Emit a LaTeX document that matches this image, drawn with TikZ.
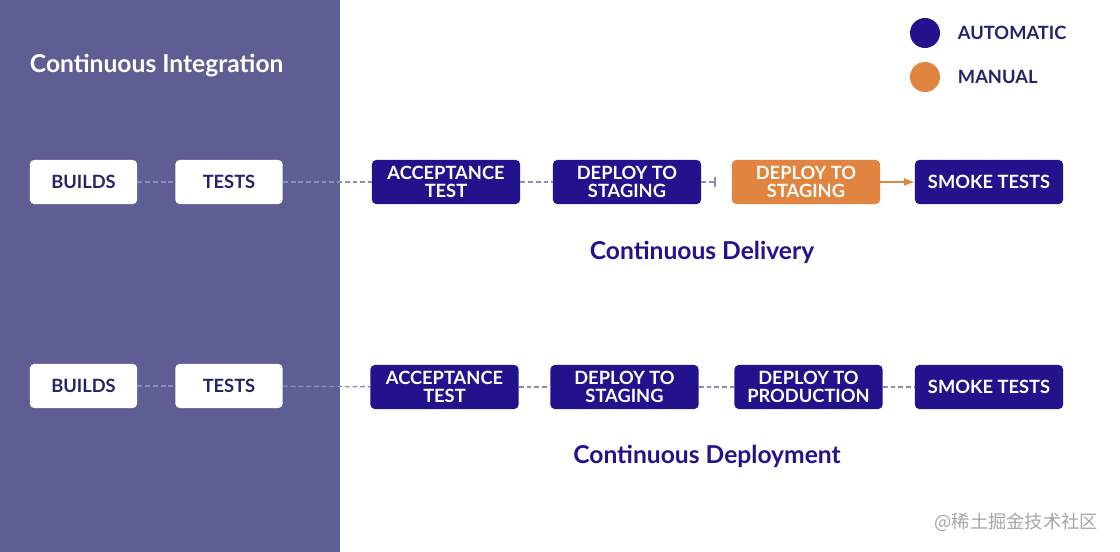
\documentclass[tikz,border=0pt]{standalone}
\usepackage{fontspec}
\setmainfont{Lato}
\newfontfamily\cjkfont{Noto Sans CJK SC}
\usetikzlibrary{arrows.meta}
\definecolor{ciPanel}{HTML}{5E5E95}
\definecolor{autoBlue}{HTML}{22128C}
\definecolor{manOrange}{HTML}{E0843F}
\definecolor{navyText}{HTML}{25236A}
\definecolor{dashLine}{HTML}{8C8CC0}
\begin{document}
\begin{tikzpicture}[x=0.025cm,y=-0.025cm,>=Latex,
    box/.style={rounded corners=3pt,align=center,font=\fontsize{13}{13}\selectfont\bfseries,
      minimum height=1.1cm,inner sep=0pt},
    cibox/.style={box,fill=white,text=navyText,minimum width=2.68cm},
    autobox/.style={box,fill=autoBlue,text=white,minimum width=3.7cm},
    manbox/.style={box,fill=manOrange,text=white,minimum width=3.7cm},
    link/.style={dashLine,line width=1pt,dash pattern=on 3.5pt off 2pt},
    heading/.style={text=autoBlue,font=\fontsize{17.5}{17.5}\selectfont\bfseries}]
  \useasboundingbox (0,0) rectangle (1120,552) ;
  \fill [white] (0,0) rectangle (1120,552) ;
  \fill [ciPanel] (0,0) rectangle (340,552) ;
  \node [anchor=west,text=white,font=\fontsize{17.5}{17.5}\selectfont\bfseries] (ci) at (25,66) {Continuous Integration} ;
  % legend
  \node [circle,fill=autoBlue,minimum size=0.75cm,inner sep=0pt] (dotA) at (925,33) {} ;
  \node [circle,fill=manOrange,minimum size=0.75cm,inner sep=0pt] (dotM) at (925,77) {} ;
  \node [anchor=west,text=navyText,font=\fontsize{13}{13}\selectfont\bfseries] (legA) at (953,33) {AUTOMATIC} ;
  \node [anchor=west,text=navyText,font=\fontsize{13}{13}\selectfont\bfseries] (legM) at (953,77) {MANUAL} ;
  % continuous delivery
  \node [cibox] (b1) at (83.5,182) {BUILDS} ;
  \node [cibox] (t1) at (229,182) {TESTS} ;
  \node [autobox] (a1) at (446,182) {ACCEPTANCE\\TEST} ;
  \node [autobox] (s1) at (627,182) {DEPLOY TO\\STAGING} ;
  \node [manbox] (m1) at (806,182) {DEPLOY TO\\STAGING} ;
  \node [autobox] (k1) at (989,182) {SMOKE TESTS} ;
  \draw [link] (b1) -- (t1) ;
  \draw [link] (t1) -- (a1) ;
  \draw [link] (a1) -- (s1) ;
  \draw [link,-{Bar[width=7pt,line width=1pt]}] (s1.east) -- ([xshift=-0.4cm]m1.west) ;
  \draw [manOrange,line width=1pt,->] (m1) -- (k1) ;
  \node [heading] (cdl) at (702,252) {Continuous Delivery} ;
  % continuous deployment
  \node [cibox] (b2) at (83.5,386) {BUILDS} ;
  \node [cibox] (t2) at (229,386) {TESTS} ;
  \node [autobox] (a2) at (444.5,387) {ACCEPTANCE\\TEST} ;
  \node [autobox] (s2) at (624.5,387) {DEPLOY TO\\STAGING} ;
  \node [autobox] (p2) at (808.5,387) {DEPLOY TO\\PRODUCTION} ;
  \node [autobox] (k2) at (989,387) {SMOKE TESTS} ;
  \draw [link] (b2) -- (t2) ;
  \draw [link] (t2) -- (a2) ;
  \draw [link] (a2) -- (s2) ;
  \draw [link] (s2) -- (p2) ;
  \draw [link] (p2) -- (k2) ;
  \node [heading] (cdp) at (707,456) {Continuous Deployment} ;
  \node [anchor=east,text=gray!70,font=\cjkfont\fontsize{13}{13}\selectfont] (wm) at (1103,522) {@稀土掘金技术社区} ;
\end{tikzpicture}
\end{document}
